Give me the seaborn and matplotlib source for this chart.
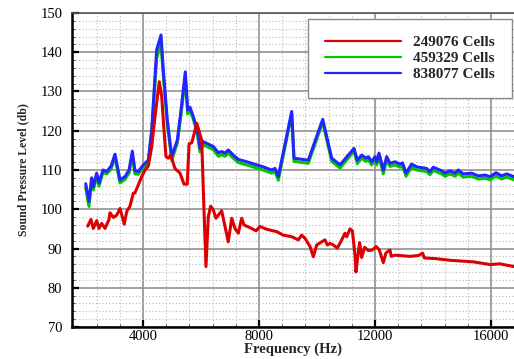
import matplotlib
matplotlib.use("Agg")
import matplotlib.pyplot as plt
from matplotlib.lines import Line2D
from matplotlib.ticker import MultipleLocator
import pandas as pd
import seaborn as sns

# Coarse-mesh spectrum (249076 cells)
freq_coarse = [2093, 2207, 2286, 2404, 2483, 2576, 2690, 2828, 2862, 2976,
               3093, 3207, 3355, 3438, 3552, 3666, 3724, 3838, 3955, 4069,
               4183, 4300, 4414, 4562, 4645, 4724, 4793, 4872, 4955, 5103,
               5276, 5414, 5524, 5590, 5679, 5759, 5852, 5907, 6024, 6103,
               6172, 6252, 6334, 6424, 6517, 6597, 6714, 6828, 6941, 7059,
               7172, 7286, 7403, 7483, 7748, 7897, 8034, 8265, 8610, 8838,
               9128, 9355, 9472, 9586, 9759, 9873, 9990, 10162, 10276, 10356,
               10448, 10563, 10700, 10852, 10966, 11024, 11138, 11220, 11310, 11345,
               11420, 11470, 11541, 11640, 11769, 11900, 12045, 12150, 12287, 12379,
               12517, 12560, 12690, 13207, 13493, 13641, 13700, 14124, 14586, 15390,
               15966, 16300, 16793]
spl_249076 = [95.7, 97.4, 95.1, 97.1, 95.1, 96.4, 95.1, 97.4, 99.1, 97.9,
              98.5, 100.2, 96.2, 99.4, 100.8, 104.1, 104.2, 106.2, 108.3, 110.0,
              111.0, 115.9, 123.6, 132.5, 128.7, 120.2, 113.4, 113.0, 113.8, 110.4,
              109.2, 106.4, 106.4, 116.7, 116.9, 119.1, 121.9, 120.6, 117.6, 99.8,
              85.4, 98.1, 100.8, 99.8, 97.7, 98.5, 99.6, 95.6, 91.7, 97.7,
              95.1, 93.9, 97.7, 96.0, 95.1, 94.5, 95.6, 94.9, 94.3, 93.4,
              93.0, 92.2, 93.4, 92.6, 90.5, 87.9, 90.9, 91.7, 92.2, 90.9,
              91.3, 90.9, 90.1, 92.2, 93.9, 93.0, 95.0, 94.5, 88.3, 84.0,
              88.8, 91.5, 87.7, 90.3, 89.5, 89.6, 90.5, 89.6, 86.4, 88.9,
              89.6, 88.0, 88.3, 88.0, 88.2, 88.8, 87.6, 87.4, 87.0, 86.6,
              85.9, 86.1, 85.4]

# Medium and fine mesh spectra share one frequency axis
freq_fine = [2024, 2138, 2230, 2286, 2404, 2483, 2621, 2748, 2900, 3034,
             3207, 3379, 3520, 3632, 3724, 3838, 4010, 4183, 4300, 4472,
             4621, 4700, 4838, 4990, 5183, 5300, 5459, 5541, 5621, 5734,
             5872, 5966, 6079, 6310, 6424, 6597, 6714, 6828, 6941, 7114,
             7286, 7576, 7921, 8148, 8286, 8438, 8552, 8666, 9128, 9207,
             9700, 10197, 10507, 10793, 11276, 11390, 11541, 11690, 11769, 11886,
             12000, 12060, 12138, 12287, 12403, 12517, 12690, 12862, 12950, 13069,
             13262, 13438, 13779, 13897, 14010, 14300, 14414, 14586, 14759, 14872,
             15045, 15334, 15562, 15793, 15966, 16172, 16369, 16541, 16793]
spl_459329 = [105.5, 100.7, 107.3, 104.9, 108.4, 105.9, 109.4, 109.0, 110.2, 113.2,
              106.7, 107.6, 109.2, 113.8, 109.0, 108.9, 110.6, 111.8, 119.5, 138.5,
              142.2, 134.0, 121.8, 112.5, 116.8, 123.5, 133.3, 124.3, 125.2, 123.0,
              119.4, 114.6, 116.4, 115.6, 115.2, 113.5, 113.9, 113.5, 114.3, 113.0,
              111.9, 111.3, 110.5, 110.0, 109.6, 109.2, 109.6, 107.4, 124.3, 112.2,
              111.7, 122.2, 112.2, 110.5, 114.8, 111.6, 113.0, 112.2, 112.6, 111.3,
              112.6, 111.3, 113.5, 109.0, 112.6, 110.9, 111.3, 110.7, 111.0, 108.4,
              110.7, 110.0, 109.6, 108.8, 109.9, 109.0, 108.4, 109.0, 108.4, 109.2,
              108.2, 108.4, 107.7, 107.9, 107.5, 108.5, 107.7, 108.2, 107.5]
spl_838077 = [106.5, 102.0, 108.0, 105.7, 109.2, 106.7, 110.0, 109.6, 111.0, 114.0,
              107.5, 108.3, 110.0, 114.8, 109.8, 109.6, 111.3, 112.5, 120.2, 140.6,
              144.4, 135.5, 122.7, 113.4, 117.6, 124.5, 135.0, 125.3, 126.0, 123.6,
              120.2, 115.6, 117.2, 116.4, 116.0, 114.4, 114.7, 114.3, 115.1, 113.8,
              112.7, 112.1, 111.3, 110.8, 110.4, 110.0, 110.4, 108.3, 124.9, 113.0,
              112.5, 122.9, 113.0, 111.3, 115.5, 112.5, 113.8, 113.0, 113.4, 112.1,
              113.4, 112.1, 114.3, 110.0, 113.4, 111.7, 112.1, 111.5, 111.8, 109.2,
              111.5, 110.8, 110.4, 109.6, 110.7, 109.8, 109.2, 109.8, 109.2, 110.0,
              109.0, 109.2, 108.5, 108.7, 108.3, 109.3, 108.5, 109.0, 108.3]

mesh_labels = ["249076 Cells", "459329 Cells", "838077 Cells"]
mesh_colors = ["#dc0000", "#00c800", "#2424ff"]

df = pd.concat([
    pd.DataFrame({"Frequency": freq_coarse, "SPL": spl_249076, "Mesh": mesh_labels[0]}),
    pd.DataFrame({"Frequency": freq_fine, "SPL": spl_459329, "Mesh": mesh_labels[1]}),
    pd.DataFrame({"Frequency": freq_fine, "SPL": spl_838077, "Mesh": mesh_labels[2]}),
], ignore_index=True)

sns.set_theme(style="white")
plt.rcParams["font.family"] = ["Liberation Serif", "DejaVu Serif"]

fig = plt.figure(figsize=(5.14, 3.59), dpi=100)
ax = fig.add_axes([72 / 514, 32 / 359, 442 / 514, 314 / 359])

sns.lineplot(data=df, x="Frequency", y="SPL", hue="Mesh", hue_order=mesh_labels,
             palette=dict(zip(mesh_labels, mesh_colors)), estimator=None,
             sort=False, linewidth=2.2, legend=False, ax=ax)
# coarse mesh drawn over the refined ones
ax.lines[0].set_zorder(3.5)
ax.lines[1].set_zorder(2.5)
ax.lines[2].set_zorder(3.0)

ax.set_xlim(1552, 16793)
ax.set_ylim(70, 150)
ax.xaxis.set_major_locator(MultipleLocator(4000))
ax.xaxis.set_minor_locator(MultipleLocator(800))
ax.yaxis.set_major_locator(MultipleLocator(10))
ax.yaxis.set_minor_locator(MultipleLocator(2))

ax.grid(which="major", color="#919191", linewidth=1.2, zorder=0)
ax.grid(which="minor", color="#b8b8b8", linestyle=(0, (1, 2)), linewidth=0.8, zorder=0)
ax.set_axisbelow(True)

ax.tick_params(which="major", direction="in", length=5, width=1.6, colors="black",
               labelsize=10.5, top=False, right=False, left=True, bottom=True)
ax.tick_params(which="minor", direction="in", length=2.5, width=0.6, colors="#333333",
               top=False, right=False, left=True, bottom=True)
ax.tick_params(axis="x", which="major", pad=2)
ax.tick_params(axis="y", which="major", pad=7)

for side in ("left", "bottom"):
    ax.spines[side].set_color("black")
    ax.spines[side].set_linewidth(1.8)
ax.spines["top"].set_color("#555555")
ax.spines["top"].set_linewidth(1.2)
ax.spines["right"].set_visible(False)

ax.set_xlabel("Frequency (Hz)", fontsize=10.5, fontweight="bold", labelpad=0)
ax.set_ylabel("Sound Pressure Level (db)", fontsize=8.5, fontweight="bold", labelpad=8)

handles = [Line2D([], [], color=c, linewidth=1.6) for c in mesh_colors]
leg = ax.legend(handles, mesh_labels, loc="upper right", bbox_to_anchor=(0.995, 0.981),
                prop={"weight": "bold", "size": 11}, frameon=True,
                fancybox=False, framealpha=1, edgecolor="#8a8a8a", borderpad=1.1,
                labelspacing=0.15, handlelength=5.0, handletextpad=0.8,
                borderaxespad=0)
leg.get_frame().set_linewidth(1.0)
leg.set_zorder(5)

fig.savefig("out.png", dpi=100)
